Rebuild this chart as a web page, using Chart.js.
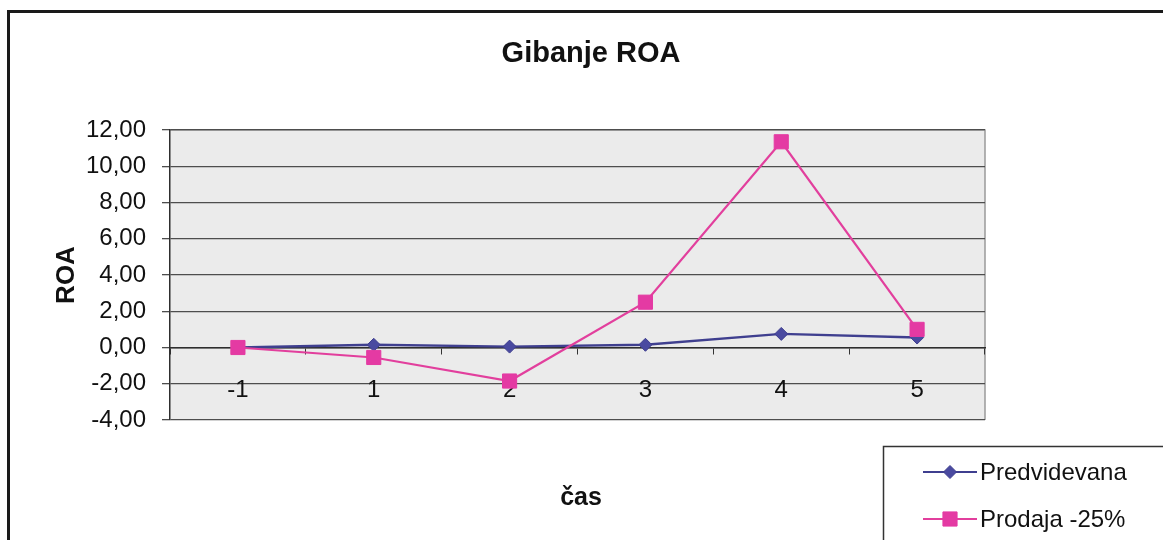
<!DOCTYPE html>
<html>
<head>
<meta charset="utf-8">
<title>Gibanje ROA</title>
<script src="https://cdn.jsdelivr.net/npm/chart.js@4/dist/chart.umd.min.js"></script>
<style>
  html, body { margin: 0; padding: 0; background: #ffffff; }
  #wrap { position: relative; width: 1163px; height: 540px; }
</style>
</head>
<body>
<div id="wrap"><canvas id="roa" width="1163" height="540"></canvas></div>
<script>
// Time periods (x axis)
const periods = ['-1', '1', '2', '3', '4', '5'];

// ROA by period
const predvidevana = [0.00, 0.15, 0.05, 0.15, 0.75, 0.55];
const prodaja25 = [0.00, -0.55, -1.85, 2.50, 11.35, 1.00];

// Series names
const seriesNames = ['Predvidevana', 'Prodaja -25%'];

// Value axis range
const yMin = -4;
const yMax = 12;
const yStep = 2;

const FONT = "'Liberation Sans', Arial, sans-serif";
const NAVY = '#3f3f8f';
const NAVY_FILL = '#4a4aa0';
const PINK = '#e23f9d';
const PINK_FILL = '#e43aa3';

// Frame, plot background, titles and legend box
const decor = {
  id: 'decor',
  beforeDraw(chart) {
    const { ctx, chartArea: a } = chart;
    ctx.save();
    ctx.fillStyle = '#ffffff';
    ctx.fillRect(0, 0, chart.width, chart.height);
    // plot background
    ctx.fillStyle = '#ebebeb';
    ctx.fillRect(a.left, a.top, a.right - a.left, a.bottom - a.top);
    ctx.strokeStyle = '#9a9a9a';
    ctx.lineWidth = 1.5;
    ctx.beginPath();
    ctx.moveTo(a.left, a.top);
    ctx.lineTo(a.right, a.top);
    ctx.lineTo(a.right, a.bottom);
    ctx.stroke();
    // outer frame
    ctx.strokeStyle = '#1a1a1a';
    ctx.lineWidth = 3;
    ctx.beginPath();
    ctx.moveTo(8.5, chart.height + 5);
    ctx.lineTo(8.5, 11.5);
    ctx.lineTo(chart.width + 5, 11.5);
    ctx.stroke();
    ctx.restore();
  },
  afterDraw(chart) {
    const { ctx } = chart;
    ctx.save();
    ctx.fillStyle = '#111111';
    ctx.textAlign = 'center';
    ctx.textBaseline = 'middle';
    // chart title
    ctx.font = "bold 29px " + FONT;
    ctx.fillText('Gibanje ROA', 591, 54);
    // x-axis title
    ctx.font = "bold 25px " + FONT;
    ctx.fillText('čas', 581, 498);

    // legend
    const lx = 883, ly = 446;
    ctx.fillStyle = '#ffffff';
    ctx.fillRect(lx, ly, chart.width - lx + 5, chart.height - ly + 5);
    ctx.strokeStyle = '#333333';
    ctx.lineWidth = 1.5;
    ctx.strokeRect(lx + 0.5, ly + 0.5, chart.width - lx + 10, chart.height - ly + 10);
    const rows = [472, 519];
    chart.data.datasets.forEach((ds, i) => {
      const y = rows[i];
      ctx.strokeStyle = ds.borderColor;
      ctx.lineWidth = 2;
      ctx.beginPath();
      ctx.moveTo(923, y);
      ctx.lineTo(977, y);
      ctx.stroke();
      ctx.fillStyle = ds.pointBackgroundColor;
      ctx.strokeStyle = ds.pointBorderColor;
      ctx.lineWidth = 1;
      Chart.helpers.drawPoint(ctx, {
        pointStyle: ds.pointStyle,
        radius: ds.pointRadius,
        borderWidth: 1,
        rotation: 0
      }, 950, y);
      ctx.fillStyle = '#111111';
      ctx.font = "24px " + FONT;
      ctx.textAlign = 'left';
      ctx.textBaseline = 'middle';
      ctx.fillText(ds.label, 980, y + 1);
    });
    ctx.restore();
  }
};

new Chart(document.getElementById('roa'), {
  type: 'line',
  data: {
    labels: periods,
    datasets: [
      {
        label: seriesNames[0],
        data: predvidevana,
        borderColor: NAVY,
        borderWidth: 2.4,
        pointStyle: 'rectRot',
        pointRadius: 6.5,
        pointBackgroundColor: NAVY_FILL,
        pointBorderColor: NAVY,
        pointBorderWidth: 1,
        tension: 0,
        order: 2
      },
      {
        label: seriesNames[1],
        data: prodaja25,
        borderColor: PINK,
        borderWidth: 2.2,
        pointStyle: 'rect',
        pointRadius: 10,
        pointBackgroundColor: PINK_FILL,
        pointBorderColor: PINK_FILL,
        pointBorderWidth: 1,
        tension: 0,
        order: 1
      }
    ]
  },
  options: {
    responsive: false,
    animation: false,
    layout: { padding: { left: 0, right: 178, top: 130, bottom: 120 } },
    plugins: {
      legend: { display: false },
      tooltip: { enabled: false },
      title: { display: false }
    },
    scales: {
      x: {
        type: 'category',
        position: { y: 0 },
        offset: true,
        grid: {
          drawOnChartArea: false,
          offset: true,
          tickLength: 6,
          color: '#333333',
          lineWidth: 1
        },
        border: { display: true, color: '#2e2e2e', width: 1.5 },
        ticks: {
          color: '#111111',
          font: { family: FONT, size: 24 },
          padding: 22,
          maxRotation: 0
        }
      },
      y: {
        min: yMin,
        max: yMax,
        afterFit(scale) { scale.width = 170; },
        grid: {
          color: '#4d4d4d',
          lineWidth: 1.3,
          tickLength: 8
        },
        border: { display: true, color: '#2e2e2e', width: 1.5 },
        ticks: {
          stepSize: yStep,
          color: '#111111',
          font: { family: FONT, size: 24 },
          padding: 16,
          callback: (v) => Number(v).toFixed(2).replace('.', ',')
        },
        title: {
          display: true,
          text: 'ROA',
          color: '#111111',
          font: { family: FONT, size: 26, weight: 'bold', lineHeight: 1.2 },
          padding: { top: 51, bottom: 0 }
        }
      }
    }
  },
  plugins: [decor]
});
</script>
</body>
</html>
